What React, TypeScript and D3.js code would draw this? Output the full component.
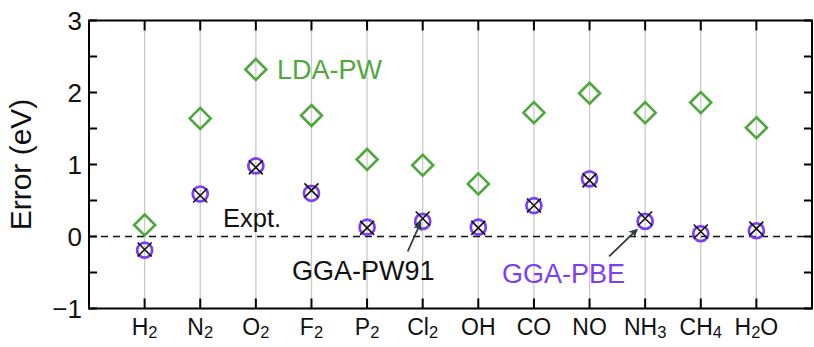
import React from 'react';
import * as d3 from 'd3';

const MOLECULES = ["H2", "N2", "O2", "F2", "P2", "Cl2", "OH", "CO", "NO", "NH3", "CH4", "H2O"];
const LDA_PW = [0.16, 1.64, 2.32, 1.68, 1.07, 0.99, 0.73, 1.72, 1.99, 1.72, 1.86, 1.51];
const GGA_PBE = [-0.19, 0.59, 0.98, 0.6, 0.13, 0.21, 0.13, 0.43, 0.8, 0.21, 0.04, 0.08];
const GGA_PW91 = [-0.18, 0.57, 0.96, 0.64, 0.12, 0.25, 0.12, 0.43, 0.78, 0.25, 0.07, 0.11];
const Y_TICKS = [-1, 0, 1, 2, 3];
const Y_MINOR = [-1, -0.5, 0, 0.5, 1, 1.5, 2, 2.5, 3];

const GREEN = "#4fa83d";
const PURPLE = "#7c3ff0";
const FONT = "'Liberation Sans', Arial, Helvetica, sans-serif";

const W = 814;
const H = 347;
const margin = { top: 20.5, right: 2, bottom: 38.5, left: 89 };

// splits "NH3" into ["NH", "3"] style pieces for subscripts
function labelParts(name: string) {
    return name.split(/(\d+)/).filter(s => s.length > 0);
}

export default function App() {
    const x = d3.scaleLinear()
        .domain([0, MOLECULES.length + 1])
        .range([margin.left, W - margin.right]);
    const y = d3.scaleLinear()
        .domain([-1, 3])
        .range([H - margin.bottom, margin.top]);

    const x0 = x(0), x1 = x(MOLECULES.length + 1);
    const yTop = y(3), yBot = y(-1);

    const diamond = (cx: number, cy: number, r: number) =>
        `M${cx},${cy - r}L${cx + r},${cy}L${cx},${cy + r}L${cx - r},${cy}Z`;

    return (
        <svg width={W} height={H} style={{ position: 'absolute', left: 0, top: 0 }} fontFamily={FONT}>
            <defs>
                <marker id="arr" viewBox="0 0 10 10" refX="9" refY="5" markerWidth="5" markerHeight="5" orient="auto">
                    <path d="M0,0L10,5L0,10L3,5Z" fill="#2b3d3d" />
                </marker>
            </defs>

            {/* vertical grid */}
            {MOLECULES.map((m, i) => (
                <line key={m} x1={x(i + 1)} x2={x(i + 1)} y1={yTop} y2={yBot} stroke="#c9c9c9" strokeWidth={1.3} />
            ))}

            {/* zero reference */}
            <line x1={x0} x2={x1} y1={y(0)} y2={y(0)} stroke="#111" strokeWidth={1.6} strokeDasharray="7,5" />

            {/* ticks */}
            {MOLECULES.map((m, i) => (
                <g key={"t" + m} stroke="#000" strokeWidth={2}>
                    <line x1={x(i + 1)} x2={x(i + 1)} y1={yTop} y2={yTop + 10} />
                    <line x1={x(i + 1)} x2={x(i + 1)} y1={yBot} y2={yBot - 10} />
                </g>
            ))}
            {Y_MINOR.map(v => (
                <g key={"y" + v} stroke="#000" strokeWidth={2}>
                    <line x1={x0} x2={x0 + 8} y1={y(v)} y2={y(v)} />
                    <line x1={x1} x2={x1 - 8} y1={y(v)} y2={y(v)} />
                </g>
            ))}

            <rect x={x0} y={yTop} width={x1 - x0} height={yBot - yTop} fill="none" stroke="#000" strokeWidth={2} />

            {/* y tick labels */}
            {Y_TICKS.map(v => (
                <text key={"l" + v} x={x0 - 7} y={y(v)} dy="0.36em" textAnchor="end" fontSize={26} fill="#111">
                    {v < 0 ? "\u2212" + Math.abs(v) : v}
                </text>
            ))}

            <text transform={`translate(31,${y(1)}) rotate(-90)`} textAnchor="middle" fontSize={30} fill="#111">
                Error (eV)
            </text>

            {/* x labels */}
            {MOLECULES.map((m, i) => (
                <text key={"x" + m} x={x(i + 1)} y={335} textAnchor="middle" fontSize={23} fill="#111">
                    {labelParts(m).map((p, j) =>
                        /\d/.test(p)
                            ? <tspan key={j} fontSize={16.5} dy={3}>{p}</tspan>
                            : <tspan key={j} dy={j > 0 ? -3 : 0}>{p}</tspan>
                    )}
                </text>
            ))}

            {/* LDA-PW diamonds */}
            {LDA_PW.map((v, i) => (
                <path key={"d" + i} d={diamond(x(i + 1), y(v), 10.5)} fill="none" stroke={GREEN} strokeWidth={2.6} />
            ))}

            {/* GGA-PBE circles */}
            {GGA_PBE.map((v, i) => (
                <circle key={"c" + i} cx={x(i + 1)} cy={y(v)} r={7.5} fill="none" stroke={PURPLE} strokeWidth={2.7} />
            ))}

            {/* GGA-PW91 crosses */}
            {GGA_PW91.map((v, i) => {
                const cx = x(i + 1), cy = y(v), s = 7;
                return (
                    <path key={"x" + i} d={`M${cx - s},${cy - s}L${cx + s},${cy + s}M${cx - s},${cy + s}L${cx + s},${cy - s}`}
                        stroke="#111" strokeWidth={1.6} fill="none" />
                );
            })}

            {/* annotations */}
            <text x={277} y={79} fontSize={27} fill={GREEN}>LDA-PW</text>
            <text x={223} y={227} fontSize={25.5} fill="#111">Expt.</text>
            <text x={292} y={280} fontSize={27} fill="#111">GGA-PW91</text>
            <text x={502} y={283} fontSize={27} fill={PURPLE}>GGA-PBE</text>

            <line x1={x(6) - 15} y1={y(GGA_PW91[5]) + 33} x2={x(6) - 2} y2={y(GGA_PW91[5]) + 4}
                stroke="#2b3d3d" strokeWidth={1.8} markerEnd="url(#arr)" />
            <line x1={x(10) - 36} y1={y(GGA_PBE[9]) + 35} x2={x(10) - 8} y2={y(GGA_PBE[9]) + 8}
                stroke="#2b3d3d" strokeWidth={1.8} markerEnd="url(#arr)" />
        </svg>
    );
}
